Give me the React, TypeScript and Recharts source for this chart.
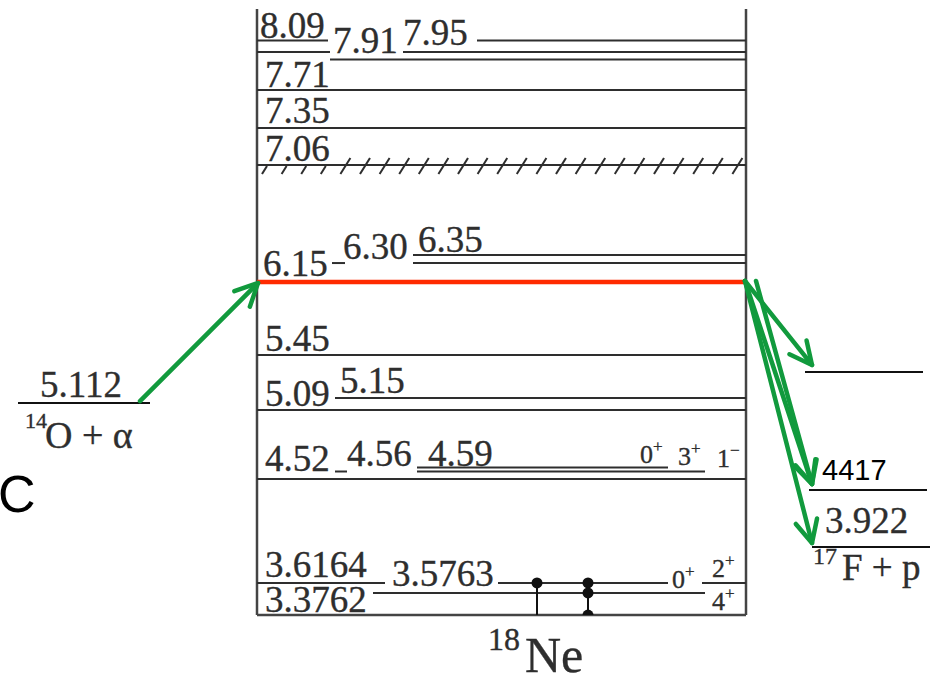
import React from "react";
import { ComposedChart, ReferenceDot, ReferenceLine, Scatter, XAxis, YAxis } from "recharts";

const SERIF = "'Liberation Serif', 'Times New Roman', serif";
const SANS = "'Liberation Sans', Arial, sans-serif";
const GREEN = "#119a3d";
const INK = "#2e2e2e";

// 18Ne levels. heights are where each level sits on the schematic (not to scale) energy axis, MeV
const levelNames = ["8.09", "7.95", "7.91", "7.71", "7.35", "7.06", "6.35", "6.30", "6.15", "5.45", "5.15", "5.09", "4.59", "4.56", "4.52", "3.6164", "3.5763", "3.3762"];
const levelHeights = [8.148, 8.047, 7.982, 7.717, 7.386, 7.064, 6.281, 6.211, 6.046, 5.411, 5.037, 4.932, 4.432, 4.397, 4.332, 3.427, 3.427, 3.34];
const resonance = "6.15";
const broadLevel = "7.06";

// spins written at the right end of the low levels
const spinValues = ["0", "3", "1", "0", "2", "4"];
const spinParity = ["+", "+", "\u2212", "+", "+", "+"];
const spinHeights = [4.471, 4.453, 4.436, 3.383, 3.479, 3.192];

// thresholds outside the box
const thresholdNames = ["5.112", "", "4417", "3.922"];
const thresholdHeights = [4.993, 5.263, 4.236, 3.74];

// layout along the diagram width (0..930)
const box = { left: 257, right: 746, top: 8.422, bottom: 3.148 };
const levelSpans = [
  [[257, 328], [477, 746]],
  [[257, 330], [403, 746]],
  [[330, 746]],
  [[257, 746]],
  [[257, 746]],
  [[257, 746]],
  [[413, 746]],
  [[332, 345], [413, 746]],
  [[257, 746]],
  [[257, 746]],
  [[335, 746]],
  [[257, 746]],
  [[417, 668]],
  [[335, 347], [417, 705]],
  [[257, 746]],
  [[257, 385], [702, 746]],
  [[498, 668]],
  [[373, 705]],
];
const levelLabelAt = [
  [260, 8.169], [403, 8.108], [333, 8.039], [265, 7.743], [265, 7.43], [265, 7.099],
  [418, 6.307], [343, 6.246], [263, 6.098], [265, 5.446], [340, 5.08], [265, 4.967],
  [428, 4.445], [347, 4.445], [265, 4.401], [265, 3.479], [392, 3.401], [265, 3.174],
];
const spinX = [640, 678, 717, 672, 712, 712];
const thresholdSpans = [[18, 150], [805, 923], [809, 927], [812, 930]];
const thresholdLabelAt = [[40, 5.045], null, [822, 4.323], [825, 3.862]];

const gammaDots = [
  { x: 537, v: 3.427 },
  { x: 588, v: 3.427 },
  { x: 588, v: 3.34 },
  { x: 588, v: 3.148, half: true },
];

const transitions = [
  { from: [140, 5.01], to: [258, 6.037] },
  { from: [745, 6.055], to: [812, 5.324] },
  { from: [745, 6.055], to: [812, 4.288] },
  { from: [756, 6.055], to: [812, 4.288] },
  { from: [745, 6.055], to: [812, 3.775] },
];

type Note = { text: string; x: number; v: number; font: string; size: number; fill?: string; sup?: string; supSize?: number };

const notes: Note[] = [
  { text: "14", x: 25, v: 4.776, font: SERIF, size: 22 },
  { text: "O + \u03b1", x: 45, v: 4.601, font: SERIF, size: 38 },
  { text: "C", x: -2, v: 4.045, font: SANS, size: 52, fill: "#000" },
  { text: "17", x: 813, v: 3.592, font: SERIF, size: 24 },
  { text: "F + p", x: 842, v: 3.453, font: SERIF, size: 37 },
  { text: "18", x: 488, v: 2.844, font: SERIF, size: 32 },
  { text: "Ne", x: 525, v: 2.652, font: SERIF, size: 50 },
];

const textShape = (n: Note) => (p: any) => (
  <text
    x={p.cx}
    y={p.cy}
    fontFamily={n.font}
    fontSize={n.size}
    fill={n.fill ?? INK}
    stroke={n.font === SERIF ? INK : "none"}
    strokeWidth={0.35}
  >
    {n.text}
    {n.sup && (
      <tspan fontSize={n.supSize} dy={-n.size * 0.42}>
        {n.sup}
      </tspan>
    )}
  </text>
);

const arrowShape = (p: any) => {
  const { x1, y1, x2, y2 } = p;
  const a = Math.atan2(y2 - y1, x2 - x1);
  const len = 25;
  const spread = (26 * Math.PI) / 180;
  const h1 = [x2 - len * Math.cos(a - spread), y2 - len * Math.sin(a - spread)];
  const h2 = [x2 - len * Math.cos(a + spread), y2 - len * Math.sin(a + spread)];
  return (
    <g stroke={GREEN} strokeWidth={4.5} fill="none" strokeLinecap="round" strokeLinejoin="round">
      <line x1={x1} y1={y1} x2={x2} y2={y2} />
      <polyline points={`${h1[0]},${h1[1]} ${x2},${y2} ${h2[0]},${h2[1]}`} />
    </g>
  );
};

const hatchShape = (p: any) => {
  const { x1, y1, x2 } = p;
  const ticks = [];
  for (let x = x1 + 10; x < x2 - 4; x += 19.6) {
    const underLabel = x < 335;
    ticks.push(
      <line
        key={x}
        x1={x - 5}
        y1={y1 + 9}
        x2={underLabel ? x : x + 5}
        y2={underLabel ? y1 + 1 : y1 - 7}
      />
    );
  }
  return (
    <g stroke={INK} strokeWidth={2}>
      <line x1={x1} y1={y1} x2={x2} y2={y1} />
      {ticks}
    </g>
  );
};

export default function App() {
  return (
    <div style={{ position: "absolute", left: 0, top: 0, width: 930, height: 678, background: "#fff" }}>
      <ComposedChart width={930} height={678} margin={{ top: 0, right: 0, bottom: 0, left: 0 }}>
        <XAxis type="number" dataKey="x" domain={[0, 930]} hide allowDataOverflow />
        <YAxis type="number" dataKey="v" domain={[2.6, 8.5]} hide allowDataOverflow />

        {/* box around the 18Ne levels */}
        {[box.left, box.right].map((x) => (
          <ReferenceLine key={`side-${x}`} ifOverflow="visible" stroke="#444" strokeWidth={2.5}
            segment={[{ x, y: box.top }, { x, y: box.bottom }]} />
        ))}
        <ReferenceLine ifOverflow="visible" stroke="#444" strokeWidth={2.5}
          segment={[{ x: box.left, y: box.bottom }, { x: box.right, y: box.bottom }]} />

        {levelNames.flatMap((name, i) =>
          levelSpans[i].map(([a, b], j) => (
            <ReferenceLine
              key={`lvl-${name}-${j}`}
              ifOverflow="visible"
              segment={[{ x: a, y: levelHeights[i] }, { x: b, y: levelHeights[i] }]}
              stroke={name === resonance ? "#ff2a00" : INK}
              strokeWidth={name === resonance ? 4.5 : 2}
              shape={name === broadLevel ? hatchShape : undefined}
            />
          ))
        )}

        {thresholdNames.map((name, i) => (
          <ReferenceLine key={`thr-${i}`} ifOverflow="visible" stroke="#111" strokeWidth={2}
            segment={[{ x: thresholdSpans[i][0], y: thresholdHeights[i] }, { x: thresholdSpans[i][1], y: thresholdHeights[i] }]} />
        ))}

        {/* gamma decay stems */}
        {[537, 588].map((x) => (
          <ReferenceLine key={`stem-${x}`} ifOverflow="visible" stroke="#111" strokeWidth={2}
            segment={[{ x, y: 3.427 }, { x, y: box.bottom }]} />
        ))}
        <Scatter
          data={gammaDots}
          isAnimationActive={false}
          shape={(p: any) =>
            p.payload.half ? (
              <path d={`M${p.cx - 5.5},${p.cy} A5.5,5.5 0 0 1 ${p.cx + 5.5},${p.cy} Z`} fill="#111" />
            ) : (
              <circle cx={p.cx} cy={p.cy} r={5.5} fill="#111" />
            )
          }
        />

        {levelNames.map((name, i) => (
          <ReferenceDot key={`lbl-${name}`} x={levelLabelAt[i][0]} y={levelLabelAt[i][1]} r={0} ifOverflow="visible"
            shape={textShape({ text: name, x: 0, v: 0, font: SERIF, size: 37 })} />
        ))}
        {spinValues.map((s, i) => (
          <ReferenceDot key={`spin-${i}`} x={spinX[i]} y={spinHeights[i]} r={0} ifOverflow="visible"
            shape={textShape({ text: s, sup: spinParity[i], x: 0, v: 0, font: SERIF, size: 26, supSize: 17 })} />
        ))}
        {thresholdNames.map((name, i) =>
          thresholdLabelAt[i] ? (
            <ReferenceDot key={`thl-${i}`} x={thresholdLabelAt[i]![0]} y={thresholdLabelAt[i]![1]} r={0} ifOverflow="visible"
              shape={textShape({ text: name, x: 0, v: 0, font: name === "4417" ? SANS : SERIF, size: name === "4417" ? 29 : 37, fill: name === "4417" ? "#000" : INK })} />
          ) : null
        )}
        {notes.map((n, i) => (
          <ReferenceDot key={`note-${i}`} x={n.x} y={n.v} r={0} ifOverflow="visible" shape={textShape(n)} />
        ))}

        {transitions.map((t, i) => (
          <ReferenceLine key={`arr-${i}`} ifOverflow="visible" shape={arrowShape}
            segment={[{ x: t.from[0], y: t.from[1] }, { x: t.to[0], y: t.to[1] }]} />
        ))}
      </ComposedChart>
    </div>
  );
}
